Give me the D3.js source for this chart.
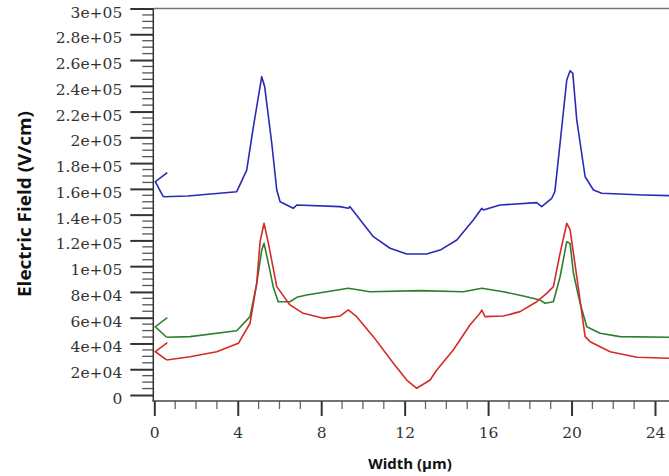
<!DOCTYPE html>
<html>
<head>
<meta charset="utf-8">
<script src="https://cdn.jsdelivr.net/npm/d3@7"></script>
<style>
  html, body { margin: 0; padding: 0; background: #fff; }
  svg { display: block; }
  .tick-label { font-family: "DejaVu Serif", serif; font-size: 15.5px; fill: #333; }
  .axis-title { font-family: "Open Sans", sans-serif; font-weight: bold; font-size: 15px; fill: #111; }
</style>
</head>
<body>
<div id="chart"></div>
<script>
// Electric field along the cutline (x in µm, field in V/cm)
const blueX = [0.43, 1.6, 3.95, 4.43, 4.75, 5.15, 5.29, 5.63, 5.87, 6.03, 6.66, 6.83, 8.9, 9.3, 9.38,
  10.5, 11.3, 12.1, 13.06, 13.7, 14.5, 15.29, 15.7, 15.77, 16.57, 18.33, 18.57, 19.05, 19.2, 19.45,
  19.77, 19.93, 20.06, 20.25, 20.65, 21.05, 21.45, 23.44, 24.8];
const blueY = [153900, 154500, 157800, 174600, 208300, 247100, 239300, 195400, 159100, 150000, 144900, 147500, 146200, 144900, 146200,
  122900, 113900, 109400, 109400, 112500, 120300, 135800, 144900, 143600, 147500, 149300, 146200, 152700, 157800, 195400,
  244500, 251700, 249700, 213500, 169400, 159100, 156600, 155200, 154700];

const greenX = [0.59, 1.71, 3.95, 4.59, 4.91, 5.15, 5.26, 5.47, 5.7, 5.94, 6.5, 6.83, 7.3, 8.26, 9.3,
  10.34, 12.74, 14.81, 15.7, 16.73, 17.69, 18.49, 18.73, 19.13, 19.45, 19.77, 19.93, 20.09, 20.41, 20.73,
  21.37, 22.32, 24.8];
const greenY = [44800, 45300, 49900, 60800, 86700, 112500, 117700, 102200, 84100, 72400, 72400, 75800, 77600, 80200, 82800,
  80200, 81000, 80200, 82800, 80200, 76800, 73700, 71200, 72400, 91800, 119000, 117700, 94500, 71200, 53000,
  47900, 45300, 44800];

const redX = [0.59, 1.71, 2.99, 4.03, 4.59, 4.91, 5.07, 5.26, 5.47, 5.87, 6.5, 7.14, 8.1, 8.9, 9.3,
  9.7, 10.5, 11.46, 12.1, 12.58, 13.22, 13.54, 14.33, 15.13, 15.61, 15.7, 15.85, 16.73, 17.53, 18.33,
  18.81, 19.13, 19.45, 19.77, 19.93, 20.25, 20.65, 20.89, 21.85, 23.13, 24.8];
const redY = [27200, 29700, 33600, 40100, 55700, 86700, 119000, 133300, 117700, 84100, 69900, 63400, 59500, 61300, 66000,
  60800, 45300, 24600, 11600, 5200, 11600, 19400, 34900, 54300, 63400, 66000, 60800, 61300, 64700, 72400,
  78900, 84100, 110000, 133300, 128300, 91800, 45300, 41400, 33600, 29300, 28500];

// field value where each series' marker arrow touches the axis
const seriesNames = ["blue", "green", "red"];
const seriesColors = ["#2a2ab6", "#2d7f2d", "#d42a2a"];
const arrowTips = [165600, 53000, 33600];

const xTicks = [0, 4, 8, 12, 16, 20, 24];
const yTicks = d3.range(0, 300001, 20000);
const yTickLabels = ["0", "2e+04", "4e+04", "6e+04", "8e+04", "1e+05", "1.2e+05", "1.4e+05",
  "1.6e+05", "1.8e+05", "2e+05", "2.2e+05", "2.4e+05", "2.6e+05", "2.8e+05", "3e+05"];

const width = 669, height = 476;
const x = d3.scaleLinear().domain([0, 24]).range([154.3, 655]);
const y = d3.scaleLinear().domain([0, 300000]).range([395, 8.5]);
const axisY = 401; // x axis sits a little below zero

const svg = d3.select("#chart").append("svg")
  .attr("width", width).attr("height", height);

// frame top
svg.append("line")
  .attr("x1", x(0) - 1).attr("x2", width)
  .attr("y1", y(300000)).attr("y2", y(300000))
  .attr("stroke", "#777").attr("stroke-width", 1.3);

// y axis
const yAxis = d3.axisLeft(y)
  .tickValues(yTicks)
  .tickSize(23)
  .tickPadding(8)
  .tickFormat((d, i) => yTickLabels[i]);
const gy = svg.append("g")
  .attr("transform", `translate(${x(0) - 1},0)`)
  .call(yAxis);
gy.select(".domain").remove();
gy.selectAll(".tick line").attr("stroke", "#333").attr("stroke-width", 2);
gy.selectAll(".tick text").attr("class", "tick-label").attr("dy", "0.55em");
gy.selectAll(".minor")
  .data(d3.range(0, 300001, 5000).filter(v => v % 20000 !== 0))
  .join("line")
  .attr("x1", -11).attr("x2", 0)
  .attr("y1", d => y(d)).attr("y2", d => y(d))
  .attr("stroke", "#555").attr("stroke-width", 1.3);
svg.append("line")
  .attr("x1", x(0) - 1).attr("x2", x(0) - 1)
  .attr("y1", y(300000)).attr("y2", axisY)
  .attr("stroke", "#333").attr("stroke-width", 1.5);

// x axis
const xAxis = d3.axisBottom(x)
  .tickValues(xTicks)
  .tickSize(15)
  .tickPadding(11);
const gx = svg.append("g")
  .attr("transform", `translate(0,${axisY})`)
  .call(xAxis);
gx.select(".domain").remove();
gx.selectAll(".tick line").attr("stroke", "#333").attr("stroke-width", 2);
gx.selectAll(".tick text").attr("class", "tick-label");
gx.selectAll(".minor")
  .data(d3.range(0, 25).filter(v => v % 4 !== 0))
  .join("line")
  .attr("x1", d => x(d)).attr("x2", d => x(d))
  .attr("y1", 0).attr("y2", 8)
  .attr("stroke", "#666").attr("stroke-width", 1.3);
svg.append("line")
  .attr("x1", x(0) - 2).attr("x2", width)
  .attr("y1", axisY).attr("y2", axisY)
  .attr("stroke", "#444").attr("stroke-width", 1.5);

// titles
svg.append("text")
  .attr("class", "axis-title")
  .attr("x", 410).attr("y", 469)
  .attr("text-anchor", "middle")
  .text("Width (µm)");
svg.append("text")
  .attr("class", "axis-title")
  .attr("transform", "translate(31,204) rotate(-90)")
  .attr("text-anchor", "middle")
  .style("font-size", "17px")
  .attr("textLength", 186)
  .attr("lengthAdjust", "spacingAndGlyphs")
  .text("Electric Field (V/cm)");

// curves
const series = [
  { xs: blueX, ys: blueY },
  { xs: greenX, ys: greenY },
  { xs: redX, ys: redY }
];
const line = d3.line().x(d => x(d[0])).y(d => y(d[1]));

series.forEach((s, i) => {
  const pts = s.xs.map((v, j) => [v, s.ys[j]]);
  svg.append("path")
    .datum(pts)
    .attr("class", "curve " + seriesNames[i])
    .attr("fill", "none")
    .attr("stroke", seriesColors[i])
    .attr("stroke-width", 1.6)
    .attr("stroke-linejoin", "round")
    .attr("d", line);

  // chevron marker at the axis, lower arm runs into the curve start
  const tipX = x(0) + 1, tipY = y(arrowTips[i]);
  svg.append("path")
    .attr("fill", "none")
    .attr("stroke", seriesColors[i])
    .attr("stroke-width", 1.6)
    .attr("d", `M${tipX + 12},${tipY - 9}L${tipX},${tipY}L${x(pts[0][0])},${y(pts[0][1])}`);
});
</script>
</body>
</html>
